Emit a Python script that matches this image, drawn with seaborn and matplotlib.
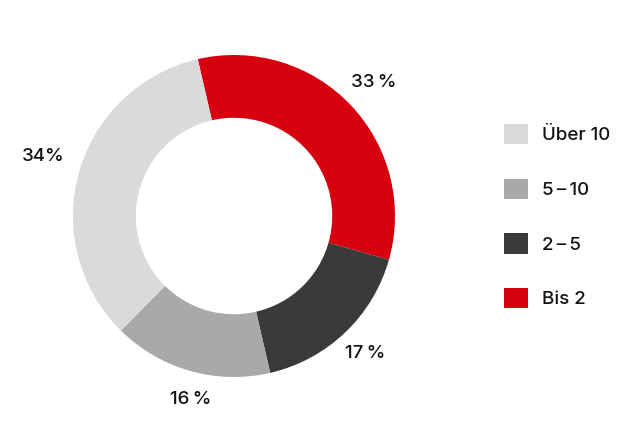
import matplotlib
matplotlib.use("Agg")
import matplotlib.pyplot as plt
import seaborn as sns
import numpy as np
from matplotlib.patches import Patch

categories = ["Bis 2", "2\u2009\u2013\u20095", "5\u2009\u2013\u200910", "Über 10"]
values = [33, 17, 16, 34]
pct_labels = ["33\u2009%", "17\u2009%", "16\u2009%", "34%"]
colors = ["#d7000f", "#3a3a3a", "#a8a9a9", "#d9dadb"]

sns.set_style("white")
plt.rcParams['font.family'] = ['Inter', 'DejaVu Sans']

fig = plt.figure(figsize=(6.44, 4.46), dpi=100)
ax = fig.add_axes([73 / 644, 69 / 446, 322 / 644, 322 / 446])

wedges, _ = ax.pie(values, colors=colors, startangle=103, counterclock=False,
                   radius=1.0, wedgeprops=dict(width=0.39, edgecolor="none"))

# percentage labels outside the ring (radius, angle nudge in degrees)
offsets = [(1.2, 0), (1.18, 0), (1.17, 2.5), (1.24, -1.5)]
for w, lab, (r, nudge) in zip(wedges, pct_labels, offsets):
    mid = np.deg2rad((w.theta1 + w.theta2) / 2 + nudge)
    ax.text(r * np.cos(mid), r * np.sin(mid), lab, ha="center", va="center",
            fontsize=13.5, fontweight="medium", color="#111111")

ax.set_xlim(-1, 1)
ax.set_ylim(-1, 1)
ax.set_aspect("equal")
ax.axis("off")

order = [3, 2, 1, 0]
handles = [Patch(facecolor=colors[i], edgecolor="none") for i in order]
fig.legend(handles, [categories[i] for i in order], loc="upper left",
           bbox_to_anchor=(487 / 644, 1 - 107 / 446), frameon=False,
           prop=dict(size=13.5, weight="medium"), handlelength=1.3,
           handleheight=1.3, labelspacing=1.82, handletextpad=0.75,
           labelcolor="#111111")

fig.savefig("out.png", dpi=100)
